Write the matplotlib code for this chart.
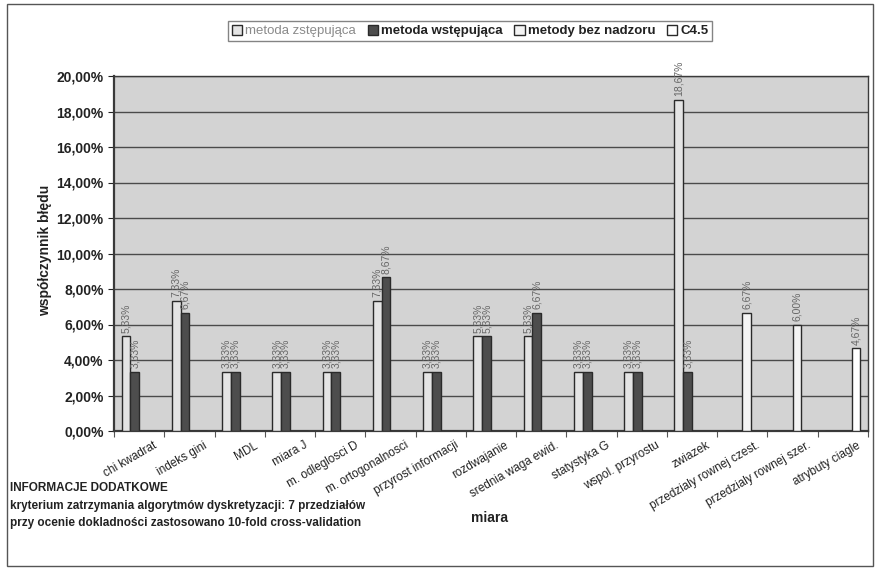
import numpy as np
import matplotlib
matplotlib.use("Agg")
import matplotlib.pyplot as plt
from matplotlib.ticker import FuncFormatter, MultipleLocator
from matplotlib.patches import Rectangle

plt.rcParams['font.family'] = ['Liberation Sans Narrow', 'Liberation Sans', 'DejaVu Sans']

categories = ["chi kwadrat", "indeks gini", "MDL", "miara J", "m. odleglosci D",
              "m. ortogonalnosci", "przyrost informacji", "rozdwajanie",
              "srednia waga ewid.", "statystyka G", "wspol. przyrostu", "zwiazek",
              "przedzialy rownej czest.", "przedzialy rownej szer.", "atrybuty ciagle"]

nan = np.nan
zstepujaca = [5.33, 7.33, 3.33, 3.33, 3.33, 7.33, 3.33, 5.33, 5.33, 3.33, 3.33, 18.67, nan, nan, nan]
wstepujaca = [3.33, 6.67, 3.33, 3.33, 3.33, 8.67, 3.33, 5.33, 6.67, 3.33, 3.33, 3.33, nan, nan, nan]
bez_nadzoru = [nan] * 12 + [6.67, 6.00, nan]
c45 = [nan] * 14 + [4.67]

series_names = ["metoda zstępująca", "metoda wstępująca", "metody bez nadzoru", "C4.5"]
series_values = [zstepujaca, wstepujaca, bez_nadzoru, c45]
series_colors = ["#e4e4e4", "#4d4d4d", "#f4f4f4", "#ffffff"]

fig = plt.figure(figsize=(8.77, 5.74), dpi=100)
fig.patch.set_facecolor("white")
ax = fig.add_axes([114 / 877, 1 - 431 / 574, 754 / 877, 355 / 574])
ax.set_facecolor("#d3d3d3")

x = np.arange(len(categories))
width = 0.175
offsets = (np.arange(4) - 1.5) * width

for vals, name, col, off in zip(series_values, series_names, series_colors, offsets):
    v = np.array(vals, dtype=float)
    ax.bar(x + off, np.nan_to_num(v), width, color=col, edgecolor="#2a2a2a",
           linewidth=1.0, label=name, zorder=3)
    for xi, vi in zip(x + off, v):
        if np.isnan(vi):
            continue
        txt = f"{vi:.2f}%".replace(".", ",")
        ax.text(xi, vi + 0.2, txt, rotation=90, ha="center", va="bottom",
                fontsize=7.5, color="#666666", zorder=4)

ax.set_xlim(-0.5, len(categories) - 0.5)
ax.set_ylim(0, 20)
ax.yaxis.set_major_locator(MultipleLocator(2))
ax.yaxis.set_major_formatter(FuncFormatter(lambda v, p: f"{v:.2f}%".replace(".", ",")))
ax.grid(axis="y", color="#4a4a4a", linewidth=1.0, zorder=1)
ax.set_axisbelow(True)
for s in ax.spines.values():
    s.set_color("#3a3a3a")
    s.set_linewidth(1.0)
ax.spines["left"].set_linewidth(1.6)
ax.spines["bottom"].set_linewidth(1.6)

# tick marks on category boundaries, labels slightly right of each category centre
ax.set_xticks(np.arange(len(categories) + 1) - 0.5)
ax.set_xticklabels([])
ax.set_xticks(x + 0.28, minor=True)
ax.set_xticklabels(categories, minor=True, rotation=30, ha="right",
                   rotation_mode="anchor", fontsize=8.5, color="#222222")
ax.tick_params(axis="x", which="major", length=4, color="#555555")
ax.tick_params(axis="x", which="minor", length=0, pad=6)
ax.tick_params(axis="y", labelsize=10, length=4, colors="#222222")
for lbl in ax.get_yticklabels():
    lbl.set_fontweight("bold")

leg = fig.legend(loc="center", bbox_to_anchor=(470 / 877, 1 - 31 / 574), ncol=4,
                 fontsize=9.5, frameon=True, fancybox=False, edgecolor="#666666",
                 handlelength=0.8, handleheight=0.8, handletextpad=0.2,
                 columnspacing=0.9, borderpad=0.3)
leg.get_texts()[0].set_color("#8a8a8a")
for t in leg.get_texts()[1:]:
    t.set_color("#222222")
    t.set_fontweight("bold")

fig.text(45 / 877, 1 - 250 / 574, "współczynnik błędu", rotation=90,
         ha="center", va="center", fontsize=10, fontweight="bold", color="#222222")
fig.text(490 / 877, 1 - 518 / 574, "miara", ha="center", va="center",
         fontsize=10, fontweight="bold", color="#222222")

info = ["INFORMACJE DODATKOWE",
        "kryterium zatrzymania algorytmów dyskretyzacji: 7 przedziałów",
        "przy ocenie dokladności zastosowano 10-fold cross-validation"]
for i, line in enumerate(info):
    fig.text(10 / 877, 1 - (488 + 17.5 * i) / 574, line, ha="left", va="center",
             fontsize=8.5, fontweight="bold", color="#222222")

fig.patches.append(Rectangle((7 / 877, 1 - 566 / 574), 866 / 877, 562 / 574,
                             transform=fig.transFigure, fill=False,
                             edgecolor="#555555", linewidth=1.0))

fig.savefig("out.png", dpi=100)
